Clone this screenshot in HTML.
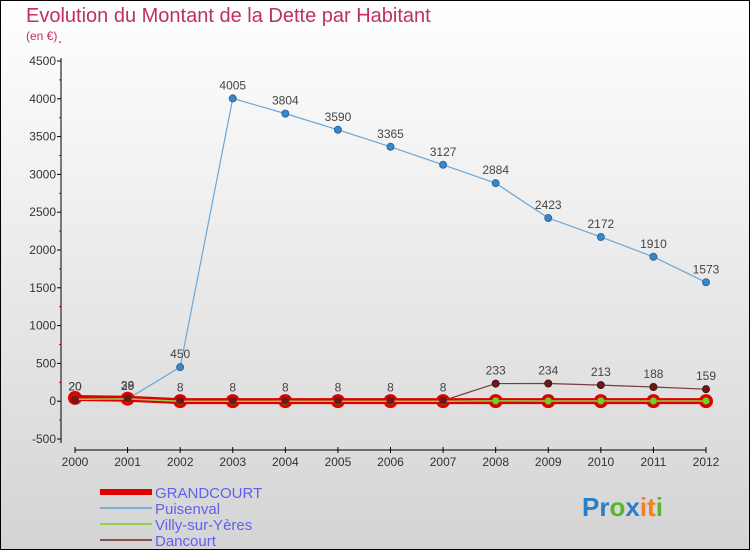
<!DOCTYPE html>
<html><head><meta charset="utf-8"><style>
body{margin:0}
#c{width:750px;height:550px;position:relative;overflow:hidden}
text{font-family:"Liberation Sans",sans-serif}
</style></head><body>
<div id="c">
<svg id="s" width="750" height="550" xmlns="http://www.w3.org/2000/svg">
<defs><linearGradient id="bg" x1="0" y1="0" x2="0" y2="1"><stop offset="0" stop-color="#ffffff"/><stop offset="1" stop-color="#d4d4d4"/></linearGradient></defs>
<rect x="0.5" y="0.5" width="749" height="549" fill="url(#bg)" stroke="#000"/>
<text x="26" y="22" font-size="20" fill="#c0305a">Evolution du Montant de la Dette par Habitant</text>
<text x="26" y="40" font-size="12" fill="#c0305a">(en €)</text>
<g id="axes"></g><g id="series"></g><g id="legend"></g>
<text x="582" y="516" font-size="26" font-weight="bold"><tspan fill="#2a7fc9">Pr</tspan><tspan fill="#5bb52c">o</tspan><tspan fill="#2a7fc9">x</tspan><tspan fill="#f08020">it</tspan><tspan fill="#5bb52c">i</tspan></text>
</svg>
</div>
<script>
const years=[2000,2001,2002,2003,2004,2005,2006,2007,2008,2009,2010,2011,2012];
const yTicks=[-500,0,500,1000,1500,2000,2500,3000,3500,4000,4500];
const grandcourt=[43,33,1,1,1,1,1,1,1,1,1,1,1];
const puisenval=[20,29,450,4005,3804,3590,3365,3127,2884,2423,2172,1910,1573];
const villy=[25,30,-1,-1,-1,-1,-1,-1,4,3,3,3,3];
const dancourt=[20,38,8,8,8,8,8,8,233,234,213,188,159];
const NS="http://www.w3.org/2000/svg";
const x=i=>75+i*(706-75)/12;
const y=v=>401.2-v*(37.8/500);
function mk(t,a,p){const e=document.createElementNS(NS,t);for(const k in a)e.setAttribute(k,a[k]);p.appendChild(e);return e;}
const ax=document.getElementById('axes');
let l=mk('line',{x1:61,y1:58,x2:61,y2:443,stroke:'#000'},ax);


l=mk('line',{x1:75,y1:450,x2:706,y2:450,stroke:'#000'},ax);


yTicks.forEach(v=>{
 mk('line',{x1:57,x2:61,y1:y(v),y2:y(v),stroke:'#000'},ax);
 mk('line',{x1:59,x2:61,y1:y(v+250),y2:y(v+250),stroke:'#c00'},ax);
 const t=mk('text',{x:56,y:y(v)+4,'font-size':12,fill:'#333','text-anchor':'end'},ax);t.textContent=v;
 
 
});
years.forEach((yr,i)=>{
 mk('line',{x1:x(i),x2:x(i),y1:447,y2:453,stroke:'#000'},ax);
 const t=mk('text',{x:x(i),y:466,'font-size':12,fill:'#333','text-anchor':'middle'},ax);t.textContent=yr;
 
 
});
const sg=document.getElementById('series');
function series(name,data,color,w,r,fill,stroke,sw,labels){
 const g=mk('g',{},sg);
 
 
 const pl=mk('polyline',{points:data.map((v,i)=>x(i)+','+y(v)).join(' '),fill:'none',stroke:color,'stroke-width':w},g);
 
 
 data.forEach((v,i)=>{
  const c=mk('circle',{cx:x(i),cy:y(v),r:r,fill:fill,stroke:stroke,'stroke-width':sw},g);
  
  
  if(labels){const t=mk('text',{x:x(i),y:y(v)-9,'font-size':12,fill:'#444','text-anchor':'middle'},g);t.textContent=v;
  
  }
 });
}
series('puisenval',puisenval,'#6aa7d8',1.2,3.5,'#3a86c6','#2a6aa6',1,true);
series('dancourt',dancourt,'#7a3a3a',1.2,3.5,'#6a1a1a','#4a1010',1,true);
series('grandcourt',grandcourt,'#e00000',6,7,'#e00000','#e00000',0,false);
series('villy-sur-yeres',villy,'#8fd14f',1.5,3.5,'#6fd030','#5a0',0.5,false);
const dots=document.getElementById('series');
dancourt.forEach((v,i)=>{if(i<8){const c=mk('circle',{cx:x(i),cy:y(v),r:4,fill:'#6a1a1a'},dots);
 
 }});
const lg=document.getElementById('legend');
const items=[['GRANDCOURT','#e00000',6],['Puisenval','#7aafd6',2],['Villy-sur-Yères','#8fd14f',2],['Dancourt','#8a5050',2]];
items.forEach((it,k)=>{
 const yy=[498,514,530,546][k];
 const g=mk('g',{},lg);
 
 
 mk('line',{x1:100,x2:152,y1:yy-6,y2:yy-6,stroke:it[1],'stroke-width':it[2]},g);
 const t=mk('text',{x:155,y:yy,'font-size':15,fill:'#6060f0'},g);t.textContent=it[0];
});
</script>
</body></html>
